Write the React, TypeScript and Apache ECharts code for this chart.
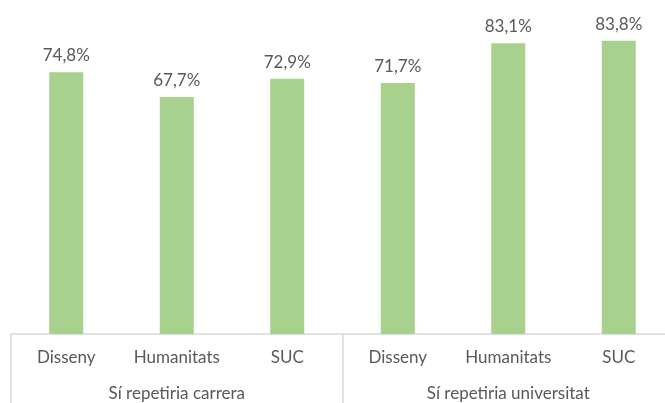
import React, { useEffect, useRef } from "react";
import * as echarts from "echarts";

const categories = ["Disseny", "Humanitats", "SUC", "Disseny", "Humanitats", "SUC"];
const groups = ["Sí repetiria carrera", "Sí repetiria universitat"];
const values = [74.8, 67.7, 72.9, 71.7, 83.1, 83.8];

const FONT = "Lato";
const TEXT = "#595959";

export default function App() {
  const ref = useRef<HTMLDivElement>(null);
  useEffect(() => {
    if (!ref.current) return;
    const chart = echarts.init(ref.current, undefined, { renderer: "svg" });
    chart.setOption({
      animation: false,
      grid: { left: 11, top: 19, width: 663, height: 315, containLabel: false },
      xAxis: [
        {
          type: "category",
          data: categories,
          position: "bottom",
          axisLine: { show: true, lineStyle: { color: "#D9D9D9", width: 1.5 } },
          axisTick: { show: false },
          axisLabel: { color: TEXT, fontFamily: FONT, fontSize: 17, margin: 14, interval: 0 },
          splitLine: { show: false },
        },
        {
          type: "category",
          data: groups,
          position: "bottom",
          axisLine: { show: false },
          axisTick: { show: true, length: 75, lineStyle: { color: "#D9D9D9", width: 1.5 } },
          axisLabel: { color: TEXT, fontFamily: FONT, fontSize: 17, margin: 50, interval: 0 },
          splitLine: { show: false },
        },
      ],
      yAxis: { type: "value", min: 0, max: 90, show: false, splitLine: { show: false } },
      series: [
        {
          type: "bar",
          data: values,
          xAxisIndex: 0,
          barWidth: 34,
          itemStyle: { color: "#A9D18E" },
          label: {
            show: true,
            position: "top",
            distance: 9,
            color: TEXT,
            fontFamily: FONT,
            fontSize: 17,
            formatter: (p: any) => p.value.toFixed(1).replace(".", ",") + "%",
          },
        },
      ],
    });
    return () => chart.dispose();
  }, []);
  return (
    <div style={{ position: "fixed", left: 0, top: 0, width: 665, height: 403, overflow: "hidden" }}>
      <div ref={ref} style={{ position: "absolute", left: 0, top: 0, width: 700, height: 403 }} />
    </div>
  );
}
